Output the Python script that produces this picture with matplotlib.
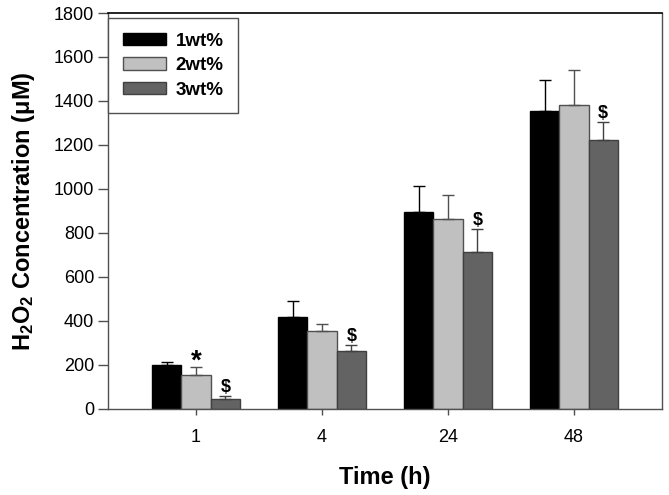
import matplotlib
matplotlib.use("Agg")
import matplotlib.pyplot as plt
import numpy as np

plt.rcParams["font.family"] = ["Liberation Sans", "DejaVu Sans"]
plt.rcParams["mathtext.fontset"] = "custom"
plt.rcParams["mathtext.rm"] = "Liberation Sans"
plt.rcParams["mathtext.bf"] = "Liberation Sans:bold"

times = ["1", "4", "24", "48"]
series = ["1wt%", "2wt%", "3wt%"]
mean_1wt = [200, 416, 896, 1355]
mean_2wt = [152, 352, 864, 1383]
mean_3wt = [44, 264, 712, 1222]
err_1wt = [10, 74, 115, 140]
err_2wt = [38, 32, 110, 157]
err_3wt = [12, 26, 107, 80]
marks_2wt = ["*", "", "", ""]
marks_3wt = ["$", "$", "$", "$"]

colors = ["#000000", "#c0c0c0", "#636363"]
edges = ["#000000", "#505050", "#404040"]

fig = plt.figure(figsize=(6.69, 4.95), dpi=100)
ax = fig.add_axes([0.1614, 0.1747, 0.8281, 0.7990])

x = np.arange(len(times))
w = 0.233
means = [mean_1wt, mean_2wt, mean_3wt]
errs = [err_1wt, err_2wt, err_3wt]
for i in range(3):
    pos = x + (i - 1) * w
    ax.bar(pos, means[i], w, color=colors[i], edgecolor=edges[i], linewidth=1.0,
           label=series[i], zorder=2)
    ax.errorbar(pos, means[i], yerr=[np.zeros(len(times)), errs[i]], fmt="none",
                ecolor=edges[i], elinewidth=1.0, capsize=4.3, capthick=1.0, zorder=3)

# significance marks sit just above the error caps
for j in range(len(times)):
    if marks_2wt[j]:
        ax.text(x[j], mean_2wt[j] + err_2wt[j] - 10, marks_2wt[j], ha="center", va="baseline",
                fontsize=20, fontweight="bold")
    if marks_3wt[j]:
        ax.text(x[j] + w, mean_3wt[j] + err_3wt[j] + 18, marks_3wt[j], ha="center", va="baseline",
                fontsize=13, fontweight="bold")

ax.set_xlim(-0.7, 3.7)
ax.set_ylim(0, 1800)
ax.set_yticks(np.arange(0, 1801, 200))
ax.set_xticks(x)
ax.set_xticklabels(times)
ax.tick_params(axis="y", direction="out", length=7, width=1, color="#505050", labelsize=13, pad=3)
ax.tick_params(axis="x", direction="out", length=4, width=1, color="#505050", labelsize=13, pad=11)

for side in ["left", "bottom", "right"]:
    ax.spines[side].set_color("#505050")
    ax.spines[side].set_linewidth(1.0)
ax.spines["top"].set_color("#000000")
ax.spines["top"].set_linewidth(1.2)

ax.set_xlabel("Time (h)", fontsize=17, fontweight="bold", labelpad=14)
ax.set_ylabel(r"$\mathbf{H_2O_2}$ Concentration (μM)", fontsize=17, fontweight="bold", labelpad=12)

leg = ax.legend(loc="upper left", bbox_to_anchor=(0.0, 0.987), borderaxespad=0,
                prop={"weight": "bold", "size": 13.5}, fancybox=False,
                edgecolor="#505050", framealpha=1, handlelength=2.3, handleheight=0.65,
                handletextpad=0.53, labelspacing=0.4, borderpad=0.78)
leg.get_frame().set_linewidth(1.0)

fig.savefig("out.png", dpi=100)
